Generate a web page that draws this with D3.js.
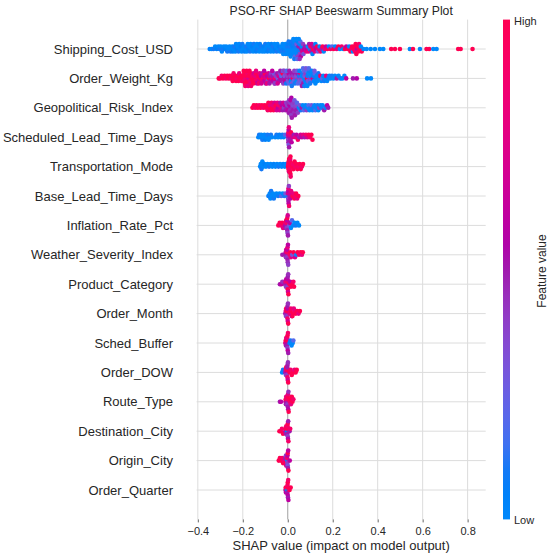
<!DOCTYPE html>
<html>
<head>
<meta charset="utf-8">
<script src="https://cdn.jsdelivr.net/npm/d3@7"></script>
<style>
    body { margin: 0; background: #fff; }
    text { font-family: "Liberation Sans", Arial, sans-serif; fill: #262626; }
</style>
</head>
<body>
<div class="container"></div>
<script>
// feature names, top row first
var features = ['Shipping_Cost_USD', 'Order_Weight_Kg', 'Geopolitical_Risk_Index', 'Scheduled_Lead_Time_Days',
    'Transportation_Mode', 'Base_Lead_Time_Days', 'Inflation_Rate_Pct', 'Weather_Severity_Index',
    'Product_Category', 'Order_Month', 'Sched_Buffer', 'Order_DOW', 'Route_Type', 'Destination_City',
    'Origin_City', 'Order_Quarter'];

// each point: [shap value, normalised feature value (0 low .. 1 high)]
var shippingCost = [[-.347,.05],[-.338,0],[-.33,.1],[-.323,0],[-.316,.05],[-.309,0],[-.303,.1],[-.298,0],[-.293,0],
    [-.289,.1],[-.284,0],[-.279,.05],[-.274,0],[-.269,.1],[-.264,0],[-.259,0],[-.255,.1],[-.251,0],
    [-.247,0],[-.244,.05],[-.24,0],[-.237,.1],[-.233,0],[-.23,0],[-.226,.05],[-.223,0],[-.219,.1],[-.216,0],
    [-.212,0],[-.209,.05],[-.205,0],[-.202,.1],[-.199,0],[-.195,0],[-.192,.05],[-.188,0],[-.185,.1],[-.182,0],
    [-.178,0],[-.175,.05],[-.171,0],[-.168,.1],[-.165,0],[-.161,0],[-.158,.05],[-.154,0],[-.151,.1],[-.148,0],
    [-.144,0],[-.141,.05],[-.137,0],[-.134,.1],[-.131,0],[-.127,0],[-.124,.05],[-.12,0],[-.117,.1],[-.114,0],
    [-.11,0],[-.107,.05],[-.103,0],[-.1,.1],[-.097,0],[-.093,0],[-.09,.05],[-.086,0],[-.083,.1],[-.08,0],
    [-.076,0],[-.073,.05],[-.069,0],[-.066,.1],[-.063,0],[-.059,0],[-.056,.05],[-.052,0],[-.049,.1],[-.046,0],
    [-.042,0],[-.039,.05],[-.035,0],[-.032,.1],
    [-.029,0],[-.026,.1],[-.023,0],[-.02,0],[-.018,.05],[-.015,0],[-.012,.1],[-.01,0],[-.008,0],
    [-.005,0],[-.002,.1],[0,0],[.002,.05],[.005,0],[.004,.1],
    [.007,0],[.009,.1],[.011,0],[.014,.05],[.016,0],[.018,.1],[.013,0],
    [.02,0],[.022,.05],[.024,0],[.026,.1],[.028,0],[.03,0],[.032,.2],[.025,0],[.029,.1],
    [.033,0],[.035,.1],[.037,0],[.039,.3],[.041,0],[.043,.05],[.045,.4],[.038,0],[.042,.2],
    [.046,0],[.048,.5],[.05,.1],[.052,0],[.054,.4],[.056,.2],[.058,.6],[.049,0],[.053,.45],
    [.06,.5],[.062,0],[.065,.7],[.068,.4],[.07,.3],[.073,.6],[.077,.5],[.082,.8],
    [.086,.6],[.089,0],[.092,.8],[.095,.5],[.098,.1],[.101,.9],[.104,.5],[.107,.7],[.11,0],[.113,1],[.116,.5],
    [.12,.8],[.123,0],[.127,.6],[.13,1],[.134,.3],[.138,.8],[.142,0],[.146,.9],[.15,.5],[.155,1],[.16,0],
    [.165,.8],[.17,.6],[.176,1],[.183,0],[.19,.9],[.197,.2],[.204,1],[.211,0],[.218,.8],[.225,1],[.232,0],
    [.24,.9],[.247,0],[.254,1],[.26,.6],[.267,1],[.273,0],
    [.279,1],[.283,.9],[.286,1],[.29,0],[.293,1],[.296,1],[.299,.9],[.302,1],[.305,1],[.308,.6],[.311,1],
    [.314,1],[.317,.9],[.321,1],[.325,0],[.329,1],
    [.337,0],[.351,0],[.369,0],[.388,0],[.41,0],[.425,0],[.46,1],[.477,1],[.499,1],[.543,0],[.557,1],
    [.588,0],[.617,1],[.629,1],[.647,0],[.662,0],[.758,1],[.769,1],[.822,1]];

var orderWeight = [[-.307,1],[-.301,1],[-.294,.9],[-.288,1],[-.281,1],[-.275,.9],[-.269,1],[-.263,1],[-.258,1],[-.253,.9],
    [-.249,1],[-.245,1],[-.241,.9],[-.238,1],[-.234,1],[-.23,1],[-.227,.9],[-.223,1],[-.219,1],[-.216,.8],
    [-.212,1],[-.208,1],[-.205,.9],[-.201,1],
    [-.198,1],[-.195,.9],[-.193,1],[-.19,1],[-.187,.8],[-.185,1],[-.182,1],[-.179,.9],[-.177,1],[-.174,.7],
    [-.172,1],[-.169,.9],[-.166,1],[-.164,.8],[-.161,1],
    [-.158,.9],[-.155,1],[-.152,.7],[-.149,1],[-.146,.8],[-.143,.9],[-.14,1],[-.137,.6],[-.134,.9],[-.131,1],
    [-.128,.7],[-.125,.8],[-.122,1],[-.119,.6],[-.116,.8],[-.113,.5],[-.11,.9],[-.107,.7],[-.104,.6],[-.101,1],
    [-.098,.5],[-.095,.8],[-.092,.6],[-.089,.4],[-.086,.7],[-.083,1],[-.08,.5],[-.077,.6],[-.074,.4],[-.071,.8],
    [-.068,.5],[-.065,.6],[-.062,.3],[-.059,.5],[-.056,.9],[-.053,.4],[-.05,.6],[-.047,.5],[-.044,.3],[-.041,.7],
    [-.038,.5],[-.035,.4],[-.032,.6],[-.029,.2],[-.026,.5],[-.023,1],[-.02,.4],
    [-.017,.5],[-.014,.3],[-.012,.6],[-.009,.4],[-.007,.1],[-.004,.5],[-.001,.4],[.001,.3],[.004,.6],[.006,.2],
    [.009,.5],[.012,.4],[.014,0],[.017,.5],[.019,.3],[.022,.9],[.025,.4],[.027,.2],[.03,.5],[.032,.1],
    [.035,.4],[.038,.3],[.04,0],[.043,.5],[.045,.2],[.048,.4],[.051,.1],[.053,.3],[.056,.8],[.058,.2],
    [.06,.4],[.062,0],[.064,.3],[.066,.1],[.069,.5],[.071,.2],[.073,0],[.075,.3],[.077,.1],[.079,.4],
    [.082,0],[.084,.2],[.086,1],[.088,.1],[.09,.3],[.092,0],[.095,.2],[.097,.1],[.099,.4],[.102,0],
    [.105,.2],[.108,0],[.111,.7],[.114,.1],[.117,0],[.12,.2],[.123,0],[.126,.1],[.129,0],
    [.132,0],[.136,.1],[.14,0],[.145,.9],[.149,0],[.153,.2],[.158,0],[.162,.1],[.166,0],[.171,.8],[.175,0],
    [.18,.1],[.185,0],[.19,0],[.196,.1],[.203,0],[.21,0],[.218,.5],[.226,0],[.234,.1],[.243,0],[.252,0],[.26,.6],
    [.29,.5],[.307,.55],[.353,0],[.37,0],
    [-.196,1],[-.189,.9],[-.183,1],[-.176,.8],[-.17,1],[-.163,.9],
    [-.153,1],[-.141,.8],[-.129,.9],[-.117,.7],[-.105,.6],[-.093,.8],[-.081,.5],[-.069,.6],[-.057,.4],
    [-.045,.7],[-.033,.5],[-.021,.3],
    [-.016,.4],[-.005,.2],[.007,.5],[.018,.1],[.029,.4],[.041,.3],[.052,0],[.063,.5],[.068,.2],[.074,.1],
    [.081,.3],[.087,0],[.094,.2],[.1,.1],[.107,0],[.119,.3]];

var geoRisk = [[-.157,1],[-.151,1],[-.145,.9],[-.139,1],[-.133,1],[-.127,.9],[-.121,1],[-.115,1],[-.109,.9],[-.103,1],[-.097,1],
    [-.092,1],[-.089,.9],[-.086,1],[-.082,1],[-.079,.8],[-.076,1],[-.072,.9],[-.069,1],[-.066,.8],[-.063,1],
    [-.059,.7],[-.056,.9],[-.053,1],[-.049,.7],[-.046,.8],[-.043,.6],[-.04,.9],[-.036,.7],[-.033,.5],[-.03,.8],
    [-.026,.6],[-.023,.5],[-.02,.7],[-.017,.4],[-.013,.6],[-.01,.5],[-.007,.4],
    [-.004,.5],[-.002,.4],[0,.6],[.002,.45],[.004,.5],[.006,.4],
    [.014,.5],[.008,.55],[.01,.45],[.011,.4],[.012,.5],[.013,.6],[.015,.4],[.016,.55],[.018,.5],
    [.02,.45],[.022,.35],[.024,.5],[.026,.4],[.028,.45],[.03,.3],[.032,.5],
    [.034,.4],[.036,.35],[.038,.5],[.041,.2],[.045,.4],
    [.049,0],[.054,.3],[.058,.1],[.062,.5],[.067,0],[.071,.2],[.075,.1],[.08,0],[.084,.4],
    [.088,0],[.093,.2],[.097,0],[.101,.1],[.106,.3],[.11,0],[.114,.1],[.119,0],[.123,.2],[.127,0],[.132,.1],
    [.136,0],[.14,.4],[.145,0],[.15,.1],[.155,0],[.162,.5],[.168,.1],[.175,.6],[.18,.5]];

var schedLead = [[-.131,0],[-.127,.1],[-.122,0],[-.118,0],[-.113,.1],[-.109,0],[-.104,0],[-.1,.05],[-.095,0],[-.09,.1],
    [-.085,0],[-.08,0],[-.075,.1],[-.071,0],
    [-.056,0],[-.05,.1],[-.043,0],[-.037,.05],[-.03,0],[-.024,.1],[-.018,0],[-.012,.2],
    [.002,.5],[.001,.7],[.002,.4],[.003,.9],[.003,.5],[.004,.6],[.004,.3],[.005,.8],[.006,.5],
    [.008,.6],[.01,.8],[.012,.5],[.014,1],[.017,.6],
    [.021,.7],[.027,.5],[.033,.8],[.039,.6],[.045,.9],[.051,.5],[.057,.7],[.063,.6],[.069,.8],[.075,.5],
    [.081,.9],[.087,.7],[.093,1],[.099,.9],[.105,1],[.11,1]];

var transMode = [[-.123,0],[-.12,0],[-.117,.1],[-.113,0],[-.109,0],[-.104,.05],[-.097,0],[-.09,0],[-.083,.1],[-.076,0],
    [-.069,0],[-.062,.05],[-.055,0],[-.048,0],[-.041,.1],[-.034,0],[-.027,0],[-.02,.05],[-.013,0],[-.008,0],
    [.001,1],[.002,.9],[.003,1],[.004,1],[.005,.8],[.006,1],
    [.009,1],[.008,1],[.009,.9],[.01,1],[.01,1],[.011,.85],[.012,1],[.012,1],[.013,.9],
    [.02,1],[.023,.9],[.026,1],[.03,1],[.034,.9],[.038,1],[.043,1],[.048,.9],[.053,1],[.058,1],[.063,.9],[.068,1]];

var baseLead = [[-.086,0],[-.083,.1],[-.08,0],[-.077,0],[-.074,.1],[-.07,0],[-.066,0],[-.062,.1],[-.058,0],
    [-.05,0],[-.043,.1],[-.036,0],[-.029,.2],[-.022,0],[-.015,.1],[-.01,.3],
    [.001,0],[.001,.7],[.002,.4],[.002,.6],[.003,.5],[.003,.8],[.004,.6],[.005,.4],[.006,.9],
    [.008,.5],[.01,.7],[.012,.6],[.015,.8],
    [.021,1],[.025,.8],[.029,1],[.033,.9],[.037,1],[.042,.8],[.047,1]];

var inflationRate = [[-.042,1],[-.036,1],[-.03,.9],[-.025,1],[-.021,.8],
    [-.012,.6],[-.01,.8],[-.009,.5],[-.007,1],
    [-.005,.5],[-.004,.9],[-.004,.4],[-.003,.6],[-.002,.5],[-.002,1],[-.001,.4],[0,.7],[.001,.5],
    [.007,.3],[.01,.6],[.014,0],[.019,.2],[.024,0],[.03,0],[.036,.1],[.043,0],[.05,0]];

var weatherSeverity = [[-.024,.5],
    [-.011,.5],[-.009,.6],[-.008,.45],[-.007,.7],
    [-.004,.5],[-.004,.9],[-.003,.4],[-.002,.6],[-.001,.5],[-.001,.8],[0,.45],[.001,.6],[.002,.4],
    [.008,.9],[.011,1],[.014,.8],
    [.02,.3],[.026,1],[.032,.7],[.038,0],[.044,1],[.05,.9],[.057,1],[.063,.8],[.067,1]];

var productCategory = [[-.035,.5],[-.029,.6],[-.024,.45],
    [-.012,.5],[-.01,.8],[-.008,.4],[-.007,.6],
    [-.003,.5],[-.002,.9],[-.002,.4],[-.001,.6],[0,1],[0,.5],[.001,.7],[.002,.45],[.003,1],
    [.008,1],[.011,.6],[.014,1],
    [.02,1],[.025,.9],[.028,1]];

var orderMonth = [[-.011,.5],[-.009,.8],[-.008,.4],[-.007,1],
    [-.004,.5],[-.004,1],[-.003,.4],[-.002,.6],[-.001,.9],[-.001,.5],[0,.7],[.001,.45],[.002,1],
    [.008,.8],[.013,1],[.018,.6],[.024,1],[.03,.9],[.036,1],[.042,1],[.048,.8],[.054,1],
    [.014,.9],[.021,1],[.027,.8]];

var schedBuffer = [[-.011,.7],[-.009,1],[-.008,.5],[-.007,.8],
    [-.004,.6],[-.003,1],[-.003,.5],[-.002,.8],[-.001,.4],[-.001,1],[0,.6],[.001,.9],[.002,.5],
    [.008,0],[.012,.1],[.017,0],[.022,0],[.025,.2]];

var orderDow = [[-.025,0],[-.021,.1],
    [-.011,.5],[-.009,.8],[-.008,.4],[-.007,1],
    [-.004,.6],[-.003,1],[-.003,.4],[-.002,.5],[-.001,.9],[-.001,.5],[0,.7],[.001,.45],[.002,1],
    [.008,1],[.013,.9],[.018,1],[.024,1],[.03,.8],[.035,1],[.04,1]];

var routeType = [[-.035,.5],[-.03,.6],
    [-.01,.6],[-.009,1],[-.008,.5],[-.007,.8],
    [-.002,.5],[-.002,.9],[-.001,.4],[0,1],[0,.5],[.001,.8],[.002,.6],[.003,.45],[.004,1],
    [.009,.9],[.011,1],[.014,.8],[.018,1],[.021,1],[.025,.9]];

var destCity = [[-.037,1],[-.031,1],[-.026,.9],[-.021,1],
    [-.011,.6],[-.009,1],[-.008,.5],[-.007,.9],
    [-.003,0],[-.003,1],[-.002,.5],[-.001,.9],[0,.4],[0,1],[.001,.6],[.002,.5],[.003,.9],
    [.008,.5],[.011,.9]];

var originCity = [[-.04,1],[-.035,1],[-.03,1],[-.025,.9],[-.021,1],[-.016,.8],
    [-.011,.5],[-.009,1],[-.008,.4],[-.007,.7],
    [-.003,.1],[-.003,.9],[-.002,.4],[-.001,.6],[0,.3],[0,1],[.001,.5],[.002,.6],[.003,1],
    [.009,.6]];

var orderQuarter = [[-.01,.5],[-.009,1],[-.008,.6],
    [-.003,0],[-.002,1],[-.002,.5],[-.001,.9],[0,.6],[0,1],[.001,.5],[.002,.9],[.003,.6],
    [.008,1],[.013,1]];

var rowData = [shippingCost, orderWeight, geoRisk, schedLead, transMode, baseLead, inflationRate,
    weatherSeverity, productCategory, orderMonth, schedBuffer, orderDow, routeType, destCity,
    originCity, orderQuarter];

var xTicks = [-0.4, -0.2, 0, 0.2, 0.4, 0.6, 0.8];
var titleText = 'PSO-RF SHAP Beeswarm Summary Plot';
var xLabelText = 'SHAP value (impact on model output)';
var colorLabels = ['Low', 'High'];
var colorTitle = 'Feature value';

const WIDTH = 550;
const HEIGHT = 560;
const PLOT_LEFT = 196.6;
const PLOT_RIGHT = 485.7;
const PLOT_TOP = 19.6;
const PLOT_BOTTOM = 519.4;
const BIN = 0.013;       // shap units per pile
const LAYER_PX = 2.5;    // vertical step between stacked dots
const DOT_R = 2.3;
const GRID = '#dcdcdc';

// shap red_blue colour map (LCh ramp)
var blueLch = [54, 70, 4.6588];
var redLch = [54, 90, 0.35470565 + 2 * Math.PI];
var lMid = 40;
var shapColor = function (t) {
    t = Math.max(0, Math.min(1, t));
    var l = t < 0.5 ? blueLch[0] + (lMid - blueLch[0]) * t * 2 : lMid + (redLch[0] - lMid) * (t - 0.5) * 2;
    var c = blueLch[1] + (redLch[1] - blueLch[1]) * t;
    var h = (blueLch[2] + (redLch[2] - blueLch[2]) * t) * 180 / Math.PI;
    return d3.hcl(h, c, l).formatHex();
};

// pile points of the same bin up and down, like shap does
var layoutRow = function (values) {
    var pts = values.map(function (d, i) {
        return {shap: d[0], fv: d[1], bin: Math.round(d[0] / BIN), i: i};
    });
    var sorted = pts.slice().sort(function (a, b) { return a.bin - b.bin || a.i - b.i; });
    var layer = 0, lastBin = null;
    sorted.forEach(function (p) {
        if (p.bin !== lastBin) layer = 0;
        p.layer = Math.ceil(layer / 2) * ((layer % 2) * 2 - 1);
        layer++;
        lastBin = p.bin;
    });
    return pts;
};

var allShap = [];
rowData.forEach(function (r) { r.forEach(function (d) { allShap.push(d[0]); }); });
var ext = d3.extent(allShap);
var pad = (ext[1] - ext[0]) * 0.05;

var xScale = d3.scaleLinear()
    .domain([ext[0] - pad, ext[1] + pad])
    .range([PLOT_LEFT, PLOT_RIGHT]);

var yScale = d3.scaleLinear()
    .domain([-1, features.length])
    .range([PLOT_BOTTOM, PLOT_TOP]);

var rowY = function (i) { return yScale(features.length - 1 - i); };

var svg = d3.select('.container').append('svg')
    .attr('width', WIDTH)
    .attr('height', HEIGHT);

// grid
var grid = svg.append('g');
grid.selectAll('line.vgrid')
    .data(xTicks.filter(function (t) { return t !== 0; }))
    .enter().append('line')
    .attr('x1', function (d) { return xScale(d); })
    .attr('x2', function (d) { return xScale(d); })
    .attr('y1', PLOT_TOP).attr('y2', PLOT_BOTTOM)
    .attr('stroke', GRID).attr('stroke-width', 1);

grid.selectAll('line.hgrid')
    .data(features)
    .enter().append('line')
    .attr('x1', PLOT_LEFT).attr('x2', PLOT_RIGHT)
    .attr('y1', function (d, i) { return rowY(i); })
    .attr('y2', function (d, i) { return rowY(i); })
    .attr('stroke', GRID).attr('stroke-width', 1);

grid.append('line')
    .attr('x1', xScale(0)).attr('x2', xScale(0))
    .attr('y1', PLOT_TOP).attr('y2', PLOT_BOTTOM)
    .attr('stroke', '#a0a0a0').attr('stroke-width', 1);

// points
rowData.forEach(function (values, i) {
    var pts = layoutRow(values);
    svg.append('g').selectAll('circle')
        .data(pts)
        .enter().append('circle')
        .attr('cx', function (p) { return xScale(p.shap); })
        .attr('cy', function (p) { return rowY(i) - p.layer * LAYER_PX; })
        .attr('r', DOT_R)
        .attr('fill', function (p) { return shapColor(p.fv); });
});

// feature labels
svg.append('g').selectAll('text')
    .data(features)
    .enter().append('text')
    .attr('x', 173)
    .attr('y', function (d, i) { return rowY(i); })
    .attr('dy', '0.35em')
    .attr('text-anchor', 'end')
    .style('font-size', '13px')
    .text(function (d) { return d; });

// x axis
var xAxis = d3.axisBottom(xScale)
    .tickValues(xTicks)
    .tickSize(3)
    .tickPadding(5)
    .tickFormat(d3.format('.1f'));

var axisG = svg.append('g')
    .attr('transform', 'translate(0,' + PLOT_BOTTOM + ')')
    .call(xAxis);
axisG.select('.domain').remove();
axisG.selectAll('.tick line').attr('stroke', '#666');
axisG.selectAll('.tick text')
    .attr('fill', '#262626')
    .style('font-size', '11px')
    .style('font-family', '"Liberation Sans", Arial, sans-serif');

svg.append('text')
    .attr('x', (PLOT_LEFT + PLOT_RIGHT) / 2)
    .attr('y', 550)
    .attr('text-anchor', 'middle')
    .style('font-size', '13px')
    .text(xLabelText);

svg.append('text')
    .attr('x', (PLOT_LEFT + PLOT_RIGHT) / 2)
    .attr('y', 15)
    .attr('text-anchor', 'middle')
    .style('font-size', '12.2px')
    .text(titleText);

// colour bar
var defs = svg.append('defs');
var grad = defs.append('linearGradient')
    .attr('id', 'cbar')
    .attr('x1', 0).attr('y1', 1).attr('x2', 0).attr('y2', 0);
grad.selectAll('stop')
    .data(d3.range(0, 1.0001, 0.05))
    .enter().append('stop')
    .attr('offset', function (d) { return d; })
    .attr('stop-color', function (d) { return shapColor(d); });

svg.append('rect')
    .attr('x', 503).attr('y', PLOT_TOP)
    .attr('width', 7).attr('height', PLOT_BOTTOM - PLOT_TOP)
    .attr('fill', 'url(#cbar)');

svg.append('text')
    .attr('x', 514).attr('y', PLOT_BOTTOM + 1)
    .attr('dy', '0.35em')
    .style('font-size', '11px')
    .text(colorLabels[0]);

svg.append('text')
    .attr('x', 514).attr('y', PLOT_TOP + 1.5)
    .attr('dy', '0.35em')
    .style('font-size', '11px')
    .text(colorLabels[1]);

svg.append('text')
    .attr('transform', 'translate(546,271) rotate(-90)')
    .attr('text-anchor', 'middle')
    .style('font-size', '12px')
    .text(colorTitle);
</script>
</body>
</html>
